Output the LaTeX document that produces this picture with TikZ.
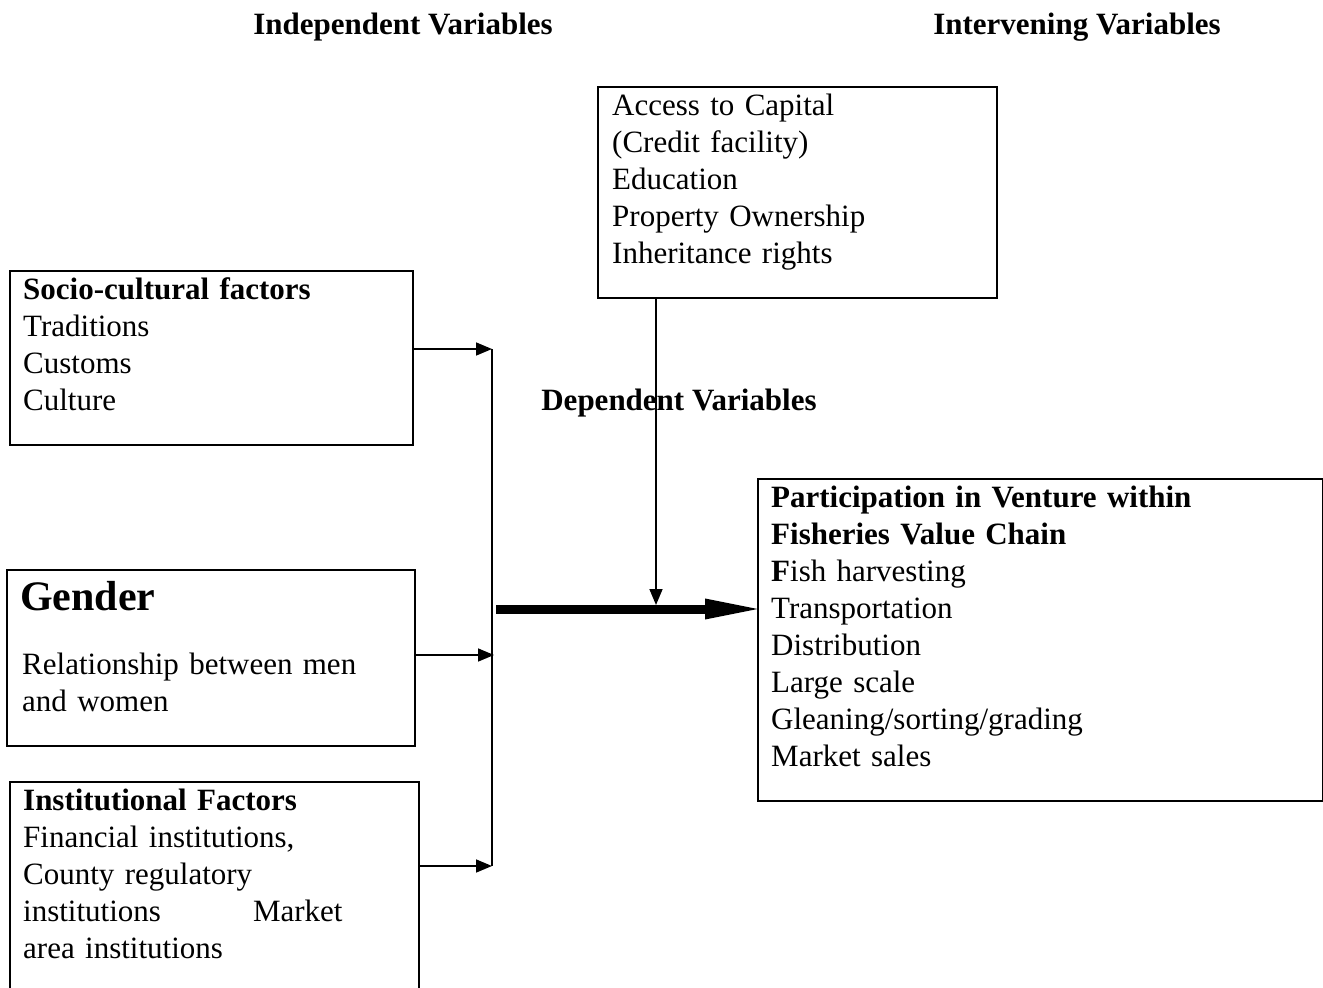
\documentclass[tikz,border=0pt]{standalone}
\usepackage{fontspec}
\setmainfont{Liberation Serif}
\usetikzlibrary{arrows.meta}

\tikzset{
  varbox/.style={draw, line width=1.6pt, inner sep=0pt, anchor=north west},
  vartxt/.style={font=\fontsize{31}{37}\selectfont, align=left, inner sep=0pt, anchor=base west, text width=#1},
  vartxt/.default=380pt,
  heading/.style={font=\fontsize{31}{37}\selectfont\bfseries, inner sep=0pt, anchor=base},
  feed/.style={line width=1.6pt, -{Triangle[length=16pt,width=13pt]}},
  mainarrow/.style={line width=9pt, shorten >=-8pt, -{Triangle[length=60pt,width=18pt]}}
}

\begin{document}
\begin{tikzpicture}[x=1pt,y=-1pt]
      \clip (0,0) rectangle (1323,988);
      \node[heading] (indep) at (403,34) {Independent Variables};
      \node[heading] (interv) at (1077,34) {Intervening Variables};
      \node[heading] (dep) at (679,410) {Dependent Variables};
      \node[varbox, minimum width=399pt, minimum height=211pt] (access) at (597,86) {};
      \node[varbox, minimum width=403pt, minimum height=174pt] (socio) at (9,270) {};
      \node[varbox, minimum width=408pt, minimum height=176pt] (gender) at (6,569) {};
      \node[varbox, minimum width=409pt, minimum height=240pt] (inst) at (9,781) {};
      \node[varbox, minimum width=565pt, minimum height=322pt] (part) at (757,478) {};
      \node[vartxt] (accesstxt) at (612,115) {Access to Capital\\(Credit facility)\\Education\\Property Ownership\\Inheritance rights};
      \node[vartxt] (sociotxt) at (23,299) {\textbf{Socio-cultural factors}\\Traditions\\Customs\\Culture};
      \node[vartxt, font=\fontsize{42}{48}\selectfont\bfseries] (gendertitle) at (20,610) {Gender};
      \node[vartxt] (gendertxt) at (22,674) {Relationship between men\\and women};
      \node[vartxt] (insttxt) at (23,810) {\textbf{Institutional Factors}\\Financial institutions,\\County regulatory\\institutions\hspace{92pt}Market\\area institutions};
      \node[vartxt=540pt] (parttxt) at (771,507) {\textbf{Participation in Venture within}\\\textbf{Fisheries Value Chain}\\\textbf{F}ish harvesting\\Transportation\\Distribution\\Large scale\\Gleaning/sorting/grading\\Market sales};
      \coordinate (c1) at (492,349);
      \coordinate (c2) at (494,655);
      \coordinate (c3) at (492,866);
      \coordinate (c4) at (496,609);
      \coordinate (c5) at (656,605);
      \draw[line width=1.6pt] (c1) -- (c3);
      \draw[feed] (socio.east |- c1) -- (c1);
      \draw[feed] (gender.east |- c2) -- (c2);
      \draw[feed] (inst.east |- c3) -- (c3);
      \draw[mainarrow] (c4) -- (c4 -| part.west);
      \draw[feed] (access.south -| c5) -- (c5);
    \end{tikzpicture}
\end{document}
